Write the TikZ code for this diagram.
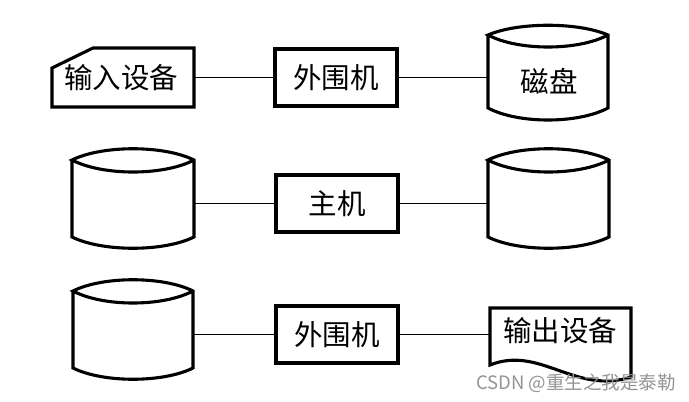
\documentclass[tikz,border=0pt]{standalone}
\usepackage{fontspec}
\newfontfamily\cjk{Noto Sans CJK SC}
\usetikzlibrary{fit}
\tikzset{
  shp/.style={line width=3.1pt, line join=miter},
  conn/.style={line width=1.6pt},
  procbox/.style={shp, draw, rectangle, inner sep=0pt, minimum width=122pt, minimum height=57pt, font=\cjk\fontsize{28.5}{30}\selectfont},
  lbl/.style={font=\cjk\fontsize{28.5}{30}\selectfont, inner sep=0pt},
  ghost/.style={inner sep=0pt, draw=none},
  wm/.style={font=\cjk\fontsize{18.5}{20}\selectfont, text=black!42, inner sep=0pt}
}
% name, xl, xr, ytop corner, ybottom corner, top bulge, inner bulge, bottom bulge
\newcommand\mycyl[8]{%
  \path (#2,#4) coordinate (#1-nw) (#3,#5) coordinate (#1-se);
  \node[ghost, fit=(#1-nw)(#1-se)] (#1) {};
  \draw[shp] (#2,#4) -- (#2,#5)
    .. controls ({#2+(#3-#2)/4},{#5+#8}) and ({#3-(#3-#2)/4},{#5+#8}) .. (#3,#5)
    -- (#3,#4)
    .. controls ({#3-(#3-#2)/4},{#4-#6}) and ({#2+(#3-#2)/4},{#4-#6}) .. (#2,#4)
    .. controls ({#2+(#3-#2)/4},{#4+#7}) and ({#3-(#3-#2)/4},{#4+#7}) .. (#3,#4);
}
\begin{document}
\begin{tikzpicture}[x=1pt,y=-1pt]
\useasboundingbox (0,0) rectangle (689,402);
\fill[white] (0,0) rectangle (689,402);

% ---- row 1 ----
\path (52,48) coordinate (in-nw) (194,107) coordinate (in-se);
\node[ghost, fit=(in-nw)(in-se)] (in) {};
\draw[shp] (52,68) -- (93,48) -- (194,48) -- (194,107) -- (52,107) -- cycle;
\node[lbl] at (121,78) {输入设备};

\node[procbox] (p1) at (336,77.5) {外围机};

\mycyl{d1}{488}{608}{35}{108}{13}{16}{16}
\node[lbl] at (549,81) {磁盘};

% ---- row 2 ----
\mycyl{d2}{72}{194}{160}{237}{15}{16}{15}
\node[procbox] (p2) at (337,203.5) {主机};
\mycyl{d3}{488}{609}{160}{237}{15}{16}{15}

% ---- row 3 ----
\mycyl{d4}{73}{193}{291}{368}{15}{16}{15}
\node[procbox] (p3) at (337,334.5) {外围机};
\path (490,308) coordinate (out-nw) (631,377) coordinate (out-se);
\node[ghost, fit=(out-nw)(out-se)] (out) {};
\draw[shp] (490,365) -- (490,308) -- (631,308) -- (631,377)
  .. controls (575,395) and (540,345) .. (490,365) -- cycle;
\node[lbl] at (560,331) {输出设备};

% ---- connectors ----
\draw[conn] (p1.west) -- (p1.west -| in.east);
\draw[conn] (p1.east) -- (p1.east -| d1.west);
\draw[conn] (p2.west) -- (p2.west -| d2.east);
\draw[conn] (p2.east) -- (p2.east -| d3.west);
\draw[conn] (p3.west) -- (p3.west -| d4.east);
\draw[conn] (p3.east) -- (p3.east -| out.west);

% ---- watermark ----
\node[wm, anchor=east] (wmk) at (676,383) {CSDN @重生之我是泰勒};
\end{tikzpicture}
\end{document}
